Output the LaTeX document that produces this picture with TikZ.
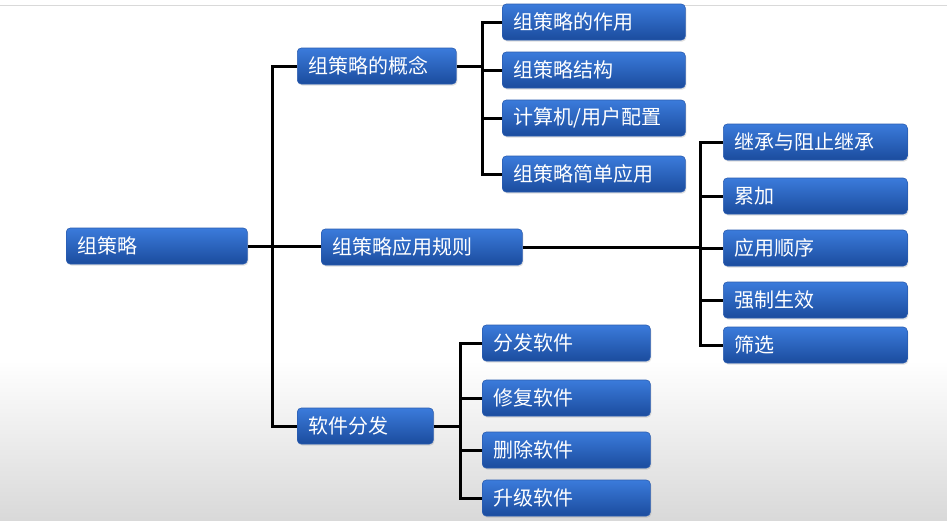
\documentclass[tikz,border=0pt]{standalone}
\usepackage{fontspec}
\newfontfamily\cjk{Noto Sans CJK SC}
\usetikzlibrary{shadows}
\definecolor{btop}{HTML}{3B7BDB}
\definecolor{bbot}{HTML}{1B4C9E}
\definecolor{bedge}{HTML}{2A5CB0}
\begin{document}
\begin{tikzpicture}[x=1pt,y=-1pt,
  box/.style={anchor=west, rounded corners=4pt, top color=btop, bottom color=bbot,
    draw=bedge, line width=0.6pt, text=white, font=\cjk\fontsize{20}{22}\selectfont,
    minimum height=36pt, inner xsep=11pt, inner ysep=0pt, text width=#1, align=left,
    drop shadow={opacity=0.25,shadow xshift=1pt,shadow yshift=-1.5pt}},
  link/.style={line width=3pt, black}]
\useasboundingbox (0,0) rectangle (947,520);
\fill[white] (0,0) rectangle (947,361);
\fill[top color=white, bottom color=gray!30] (0,360) rectangle (947,520);
\draw[gray!30, line width=1pt] (0,5) -- (947,5);

% level 0
\node[box=159pt] (root) at (66,246) {组策略};
% level 1
\node[box=137pt] (concept) at (297,66) {组策略的概念};
\node[box=179pt] (rule) at (321,247) {组策略应用规则};
\node[box=114pt] (soft) at (297,426) {软件分发};
% level 2 concept
\node[box=161pt] (a1) at (502,22) {组策略的作用};
\node[box=161pt] (a2) at (502,70) {组策略结构};
\node[box=161pt] (a3) at (502,118) {计算机/用户配置};
\node[box=161pt] (a4) at (502,174) {组策略简单应用};
% level 2 rules
\node[box=162pt] (b1) at (723,142) {继承与阻止继承};
\node[box=162pt] (b2) at (723,196) {累加};
\node[box=162pt] (b3) at (723,248) {应用顺序};
\node[box=162pt] (b4) at (723,300) {强制生效};
\node[box=162pt] (b5) at (723,345) {筛选};
% level 2 software
\node[box=146pt] (c1) at (482,343) {分发软件};
\node[box=146pt] (c2) at (482,398) {修复软件};
\node[box=146pt] (c3) at (482,450) {删除软件};
\node[box=146pt] (c4) at (482,498) {升级软件};

% connectors
\draw[link] (concept.west) -- ++(-25pt,0) coordinate (t0) |- (soft.west);
\draw[link] (root.east) -- (root.east -| rule.west);

\draw[link] (a1.west) -- ++(-20pt,0) coordinate (ta) |- (a4.west);
\draw[link] (a2.west) -- (a2.west -| ta);
\draw[link] (a3.west) -- (a3.west -| ta);
\draw[link] (concept.east) -- (concept.east -| ta);

\draw[link] (b1.west) -- ++(-23pt,0) coordinate (tb) |- (b5.west);
\draw[link] (b2.west) -- (b2.west -| tb);
\draw[link] (b3.west) -- (b3.west -| tb);
\draw[link] (b4.west) -- (b4.west -| tb);
\draw[link] (rule.east) -- (rule.east -| tb);

\draw[link] (c1.west) -- ++(-22pt,0) coordinate (tc) |- (c4.west);
\draw[link] (c2.west) -- (c2.west -| tc);
\draw[link] (c3.west) -- (c3.west -| tc);
\draw[link] (soft.east) -- (soft.east -| tc);
\end{tikzpicture}
\end{document}
